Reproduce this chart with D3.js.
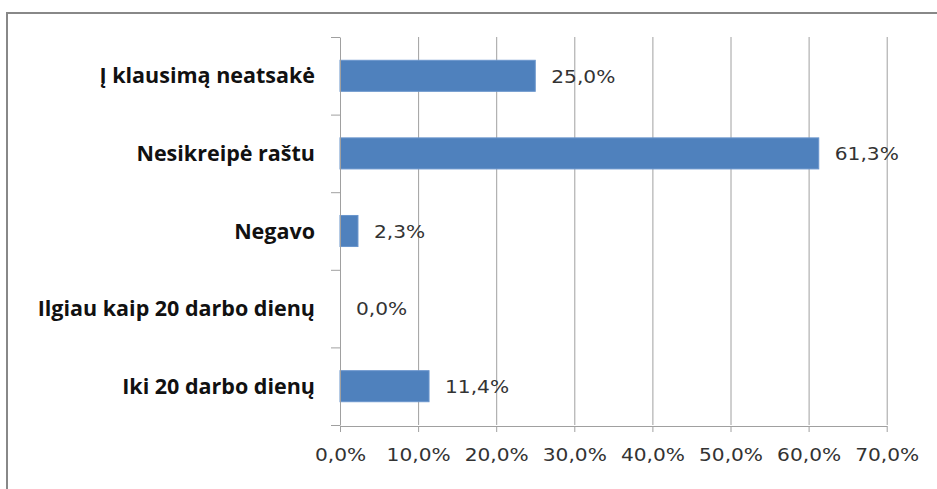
<html>
<head>
  <meta charset="utf-8">
  <script src="https://d3js.org/d3.v7.min.js"></script>
  <style>
    body { margin: 0; background: #fff; }
    .grid line { stroke: #a0a0a0; }
    .grid .domain { stroke: none; }
    .axis path, .axis line { stroke: #a0a0a0; }
    .xlabels text { font-family: "DejaVu Sans"; font-size: 18px; fill: #333; }
    .cat { font-family: "Open Sans"; font-weight: bold; font-size: 21.5px; fill: #111; }
    .val { font-family: "DejaVu Sans"; font-size: 18px; fill: #333; }
  </style>
</head>
<body>
<svg id="chart" width="937" height="489"></svg>
<script>
  const categories = ["Į klausimą neatsakė", "Nesikreipė raštu", "Negavo", "Ilgiau kaip 20 darbo dienų", "Iki 20 darbo dienų"];
  const values = [25.0, 61.3, 2.3, 0.0, 11.4];
  const tickValues = [0, 10, 20, 30, 40, 50, 60, 70];

  const svg = d3.select("#chart");
  const margin = {top: 37, left: 340, right: 51, bottom: 64};
  const width = +svg.attr("width"), height = +svg.attr("height");

  // outer frame (runs past right/bottom edge like the screenshot)
  svg.append("rect")
     .attr("x", 7).attr("y", 13)
     .attr("width", 960).attr("height", 500)
     .attr("fill", "none").attr("stroke", "#888").attr("stroke-width", 2);

  const x = d3.scaleLinear().domain([0, 70]).range([margin.left, width - margin.right + 0.7]);
  const y = d3.scaleBand().domain(categories)
              .range([margin.top, height - margin.bottom])
              .paddingInner(0.6).paddingOuter(0.3);
  const yEdge = d3.scaleLinear().domain([0, categories.length]).range([margin.top, height - margin.bottom]);
  const fmt = d => d.toFixed(1).replace(".", ",") + "%";

  // the numbers in the picture are a bit wider than DejaVu, stretch them a little
  function widen(sel) {
    sel.each(function() {
      const w = this.getComputedTextLength();
      d3.select(this).attr("textLength", w * 1.12).attr("lengthAdjust", "spacingAndGlyphs");
    });
  }

  // vertical gridlines
  svg.append("g").attr("class", "grid")
     .attr("transform", `translate(0,${margin.top})`)
     .call(d3.axisBottom(x).tickValues(tickValues.slice(1)).tickFormat("")
             .tickSize(height - margin.bottom - margin.top).tickSizeOuter(0));

  // bars
  svg.append("g").selectAll("rect")
     .data(values)
     .join("rect")
     .attr("x", x(0))
     .attr("y", (d, i) => y(categories[i]))
     .attr("width", d => x(d) - x(0))
     .attr("height", y.bandwidth())
     .attr("fill", "#4f81bd")
     .attr("stroke", "#6a95cc").attr("stroke-width", d => d > 0 ? 1 : 0);

  // y axis with ticks at band edges
  svg.append("g").attr("class", "axis")
     .attr("transform", `translate(${margin.left},0)`)
     .call(d3.axisLeft(yEdge).tickValues(d3.range(categories.length + 1))
             .tickFormat("").tickSize(9).tickSizeOuter(0));

  // x axis
  const xa = svg.append("g").attr("class", "axis xlabels")
     .attr("transform", `translate(0,${height - margin.bottom + 1})`)
     .call(d3.axisBottom(x).tickValues(tickValues).tickFormat(fmt).tickSize(6).tickSizeOuter(0));
  xa.selectAll("text").attr("dy", 0).attr("y", 35).attr("stroke", "none").call(widen);

  // category labels
  svg.append("g").selectAll("text")
     .data(categories)
     .join("text")
     .attr("class", "cat")
     .attr("x", 315)
     .attr("y", d => y(d) + y.bandwidth() / 2)
     .attr("dy", "0.35em")
     .attr("text-anchor", "end")
     .text(d => d);

  // value labels
  svg.append("g").selectAll("text")
     .data(values)
     .join("text")
     .attr("class", "val")
     .attr("x", d => x(d) + 16)
     .attr("y", (d, i) => y(categories[i]) + y.bandwidth() / 2)
     .attr("dy", "0.38em")
     .text(fmt)
     .call(widen);
</script>
</body>
</html>
